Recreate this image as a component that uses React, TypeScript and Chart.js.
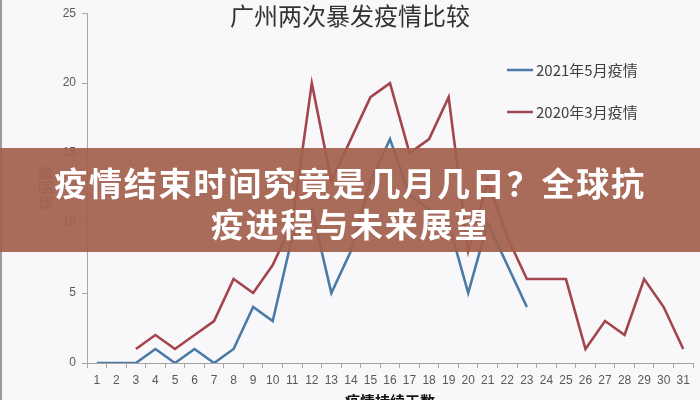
import { useEffect, useRef } from "react";
import { Chart, registerables } from "chart.js";

Chart.register(...registerables);

// 疫情持续天数
const days = [
  "1", "2", "3", "4", "5", "6", "7", "8", "9", "10",
  "11", "12", "13", "14", "15", "16", "17", "18", "19", "20",
  "21", "22", "23", "24", "25", "26", "27", "28", "29", "30", "31",
];

// 2021年5月疫情 (blue)
const cases2021 = [
  0, 0, 0, 1, 0, 1, 0, 1, 4, 3,
  9, 11, 5, 8, 13, 16, 12, 11, 10, 5,
  10, 7, 4, null, null, null, null, null, null, null, null,
];

// 2020年3月疫情 (red)
const cases2020 = [
  null, null, 1, 2, 1, 2, 3, 6, 5, 7,
  10, 20, 13, 16, 19, 20, 15, 16, 19, 8,
  13, 9, 6, 6, 6, 1, 3, 2, 6, 4, 1,
];

const seriesNames = ["2021年5月疫情", "2020年3月疫情"];
const chartTitle = "广州两次暴发疫情比较";
const xTitle = "疫情持续天数";
const yTitle = "病例数";
const bannerLines = ["疫情结束时间究竟是几月几日？全球抗", "疫进程与未来展望"];

const CJK = '"Noto Sans CJK SC", "Noto Sans", sans-serif';

// title + legend drawn inside the plot, like the Excel original
const overlayText = {
  id: "overlayText",
  afterDraw(chart: Chart) {
    const { ctx } = chart;
    ctx.save();
    ctx.fillStyle = "#333333";
    ctx.font = `24px ${CJK}`;
    ctx.textAlign = "center";
    ctx.textBaseline = "middle";
    ctx.fillText(chartTitle, 350, 16);

    ctx.font = `15px ${CJK}`;
    ctx.textAlign = "left";
    chart.data.datasets.forEach((ds, i) => {
      const y = 70 + i * 42;
      ctx.strokeStyle = ds.borderColor as string;
      ctx.lineWidth = 2.5;
      ctx.beginPath();
      ctx.moveTo(507, y);
      ctx.lineTo(533, y);
      ctx.stroke();
      ctx.fillStyle = "#404040";
      ctx.fillText(ds.label as string, 536, y);
    });
    ctx.restore();
  },
};

export default function App() {
  const canvasRef = useRef<HTMLCanvasElement>(null);
  const chartInstance = useRef<Chart | null>(null);

  useEffect(() => {
    document.body.style.margin = "0";
    if (!canvasRef.current) return;
    const ctx = canvasRef.current.getContext("2d");
    if (!ctx) return;

    if (chartInstance.current) chartInstance.current.destroy();

    const axisColor = "#a6a6a6";
    const tickFont = { family: '"Liberation Sans", Arial, sans-serif', size: 12 };

    chartInstance.current = new Chart(ctx, {
      type: "line",
      data: {
        labels: days,
        datasets: [
          {
            label: seriesNames[0],
            data: cases2021,
            borderColor: "#4a7aa6",
            backgroundColor: "#4a7aa6",
          },
          {
            label: seriesNames[1],
            data: cases2020,
            borderColor: "#a4454d",
            backgroundColor: "#a4454d",
          },
        ],
      },
      options: {
        animation: false,
        responsive: false,
        layout: { padding: { top: 11, right: 7, left: 0, bottom: 0 } },
        elements: {
          point: { radius: 0, hoverRadius: 0 },
          line: { borderWidth: 2.6, tension: 0 },
        },
        plugins: {
          legend: { display: false },
          title: { display: false },
          tooltip: { enabled: false },
        },
        scales: {
          x: {
            offset: true,
            grid: { offset: true, drawOnChartArea: false, tickLength: 5, color: axisColor },
            border: { color: axisColor, width: 1 },
            ticks: { color: "#595959", font: tickFont, padding: 5, maxRotation: 0, autoSkip: false },
            title: {
              display: true,
              text: xTitle,
              color: "#111111",
              font: { family: CJK, size: 15, weight: "bold" },
              padding: { top: 0, bottom: 2 },
            },
            afterFit: (s: any) => {
              s.height = 49;
            },
          },
          y: {
            min: 0,
            max: 25,
            ticks: { stepSize: 5, color: "#595959", font: tickFont, padding: 6 },
            grid: { drawOnChartArea: false, tickLength: 5, color: axisColor },
            border: { color: axisColor, width: 1 },
            title: {
              display: true,
              text: yTitle,
              color: "#595959",
              font: { family: CJK, size: 15 },
              padding: { top: 36, bottom: 0 },
            },
            afterFit: (s: any) => {
              s.width = 87;
            },
          },
        },
      },
      plugins: [overlayText],
    });

    return () => chartInstance.current?.destroy();
  }, []);

  return (
    <div style={{ position: "relative", width: 700, height: 412, background: "#f8f8fa", overflow: "hidden" }}>
      <canvas ref={canvasRef} width={700} height={412} style={{ display: "block" }}></canvas>
      <div style={{ position: "absolute", left: 0, top: 0, width: 2, height: 412, background: "#9a9a9a" }} />
      <div
        style={{
          position: "absolute",
          left: 0,
          top: 148,
          width: 700,
          height: 104,
          background: "rgba(163, 96, 78, 0.93)",
          color: "#ffffff",
          fontFamily: CJK,
          fontWeight: 700,
          fontSize: 33,
          lineHeight: "41px",
          textAlign: "center",
          letterSpacing: 1.8,
          paddingTop: 14,
          boxSizing: "border-box",
        }}
      >
        {bannerLines.map((t) => (
          <div key={t}>{t}</div>
        ))}
      </div>
    </div>
  );
}
